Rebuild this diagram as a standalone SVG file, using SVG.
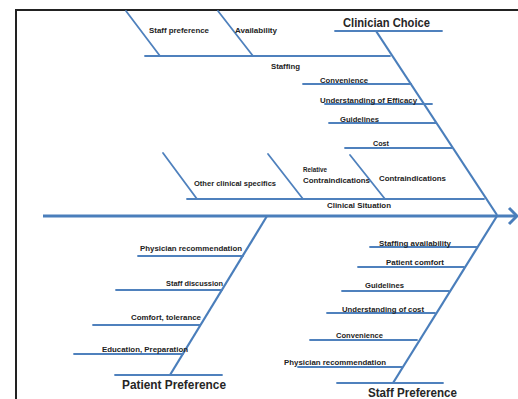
<svg xmlns="http://www.w3.org/2000/svg" width="518" height="399" viewBox="0 0 518 399">
<style>
.b{stroke:#4f81bd;stroke-width:1.8;fill:none;stroke-linecap:round}
.m{stroke:#4a7ebb;stroke-width:2.2;fill:none}
.s{stroke:#4a7ebb;stroke-width:3;fill:none}
.t{font-family:"Liberation Sans",Arial,sans-serif;font-weight:bold;font-size:7.5px;fill:#222}
.h{font-family:"Liberation Sans",Arial,sans-serif;font-weight:bold;font-size:12.5px;fill:#262626}
</style>
<rect width="518" height="399" fill="#fff"/>
<g id="frame">
<line x1="15" y1="10" x2="518" y2="10" stroke="#222" stroke-width="2"/>
<line x1="16" y1="9" x2="16" y2="399" stroke="#222" stroke-width="2"/>
</g>
<g id="connectors">
<line class="s" x1="43" y1="216" x2="516" y2="216"/>
<polyline class="s" points="509,208 517,216 509,224" stroke-linejoin="miter"/>
<line class="m" x1="376" y1="31" x2="497" y2="215"/>
<line class="m" x1="497" y1="216" x2="393" y2="383"/>
<line class="m" x1="267" y1="216" x2="170" y2="375"/>
</g>
<g id="clinician-choice">
<line class="b" x1="335" y1="31" x2="442" y2="31"/>
<text class="h" x="343" y="27" textLength="87" lengthAdjust="spacingAndGlyphs">Clinician Choice</text>
</g>
<g id="staffing">
<line class="b" x1="145" y1="56" x2="390" y2="56"/>
<text class="t" x="271" y="68.5" textLength="29" lengthAdjust="spacingAndGlyphs">Staffing</text>
</g>
<g id="staff-preference-top">
<line class="b" x1="126" y1="11" x2="160" y2="56"/>
<text class="t" x="149" y="32.5" textLength="60" lengthAdjust="spacingAndGlyphs">Staff preference</text>
</g>
<g id="availability">
<line class="b" x1="218" y1="11" x2="253" y2="56"/>
<text class="t" x="235" y="32.5" textLength="42" lengthAdjust="spacingAndGlyphs">Availability</text>
</g>
<g id="convenience-top">
<line class="b" x1="303" y1="84" x2="411" y2="84"/>
<text class="t" x="320" y="83" textLength="48" lengthAdjust="spacingAndGlyphs">Convenience</text>
</g>
<g id="understanding-efficacy">
<line class="b" x1="325" y1="104" x2="432" y2="104"/>
<text class="t" x="320" y="102.5" textLength="97" lengthAdjust="spacingAndGlyphs">Understanding of Efficacy</text>
</g>
<g id="guidelines-top">
<line class="b" x1="329" y1="123" x2="436" y2="123"/>
<text class="t" x="340" y="121.5" textLength="39" lengthAdjust="spacingAndGlyphs">Guidelines</text>
</g>
<g id="cost">
<line class="b" x1="345" y1="148" x2="452" y2="148"/>
<text class="t" x="373" y="145.5" textLength="16" lengthAdjust="spacingAndGlyphs">Cost</text>
</g>
<g id="clinical-situation">
<line class="b" x1="187" y1="199" x2="484" y2="199"/>
<text class="t" x="327" y="208" textLength="64" lengthAdjust="spacingAndGlyphs">Clinical Situation</text>
</g>
<g id="contraindications">
<line class="b" x1="350" y1="155" x2="385" y2="199"/>
<text class="t" x="379" y="180.5" textLength="67" lengthAdjust="spacingAndGlyphs">Contraindications</text>
</g>
<g id="relative-contraindications">
<line class="b" x1="268" y1="154" x2="303" y2="199"/>
<text class="t" x="303" y="172" textLength="24" lengthAdjust="spacingAndGlyphs">Relative</text>
<text class="t" x="303" y="182.5" textLength="67" lengthAdjust="spacingAndGlyphs">Contraindications</text>
</g>
<g id="other-clinical-specifics">
<line class="b" x1="163" y1="153" x2="197" y2="199"/>
<text class="t" x="194" y="185.5" textLength="82" lengthAdjust="spacingAndGlyphs">Other clinical specifics</text>
</g>
<g id="patient-preference">
<line class="b" x1="115" y1="375" x2="222" y2="375"/>
<text class="h" x="122" y="389" textLength="104" lengthAdjust="spacingAndGlyphs">Patient Preference</text>
</g>
<g id="physician-recommendation-patient">
<line class="b" x1="138" y1="256" x2="243" y2="256"/>
<text class="t" x="140" y="250.5" textLength="102" lengthAdjust="spacingAndGlyphs">Physician recommendation</text>
</g>
<g id="staff-discussion">
<line class="b" x1="116" y1="290" x2="222" y2="290"/>
<text class="t" x="166" y="285.5" textLength="57" lengthAdjust="spacingAndGlyphs">Staff discussion</text>
</g>
<g id="comfort-tolerance">
<line class="b" x1="93" y1="325" x2="200" y2="325"/>
<text class="t" x="131" y="319.5" textLength="70" lengthAdjust="spacingAndGlyphs">Comfort, tolerance</text>
</g>
<g id="education-preparation">
<line class="b" x1="74" y1="354" x2="183" y2="354"/>
<text class="t" x="102" y="351.5" textLength="86" lengthAdjust="spacingAndGlyphs">Education, Preparation</text>
</g>
<g id="staff-preference">
<line class="b" x1="337" y1="383" x2="443" y2="383"/>
<text class="h" x="368" y="397" textLength="89" lengthAdjust="spacingAndGlyphs">Staff Preference</text>
</g>
<g id="staffing-availability">
<line class="b" x1="370" y1="247" x2="477" y2="247"/>
<text class="t" x="379" y="246" textLength="72" lengthAdjust="spacingAndGlyphs">Staffing availability</text>
</g>
<g id="patient-comfort">
<line class="b" x1="358" y1="267" x2="464" y2="267"/>
<text class="t" x="386" y="264.5" textLength="58" lengthAdjust="spacingAndGlyphs">Patient comfort</text>
</g>
<g id="guidelines-staff">
<line class="b" x1="342" y1="291" x2="449" y2="291"/>
<text class="t" x="365" y="287.5" textLength="39" lengthAdjust="spacingAndGlyphs">Guidelines</text>
</g>
<g id="understanding-cost">
<line class="b" x1="327" y1="313" x2="435" y2="313"/>
<text class="t" x="342" y="311.5" textLength="82" lengthAdjust="spacingAndGlyphs">Understanding of cost</text>
</g>
<g id="convenience-staff">
<line class="b" x1="310" y1="340" x2="417" y2="340"/>
<text class="t" x="336" y="338" textLength="47" lengthAdjust="spacingAndGlyphs">Convenience</text>
</g>
<g id="physician-recommendation-staff">
<line class="b" x1="298" y1="367" x2="402" y2="367"/>
<text class="t" x="284" y="364.5" textLength="102" lengthAdjust="spacingAndGlyphs">Physician recommendation</text>
</g>
</svg>
